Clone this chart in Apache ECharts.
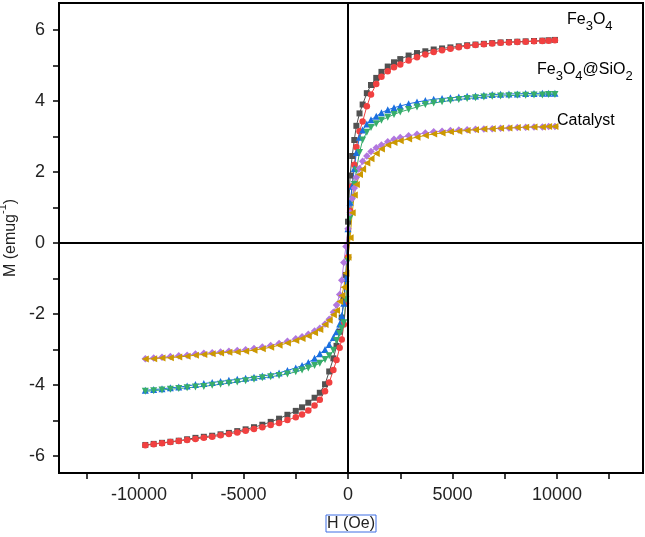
<!DOCTYPE html>
<html>
<head>
<meta charset="utf-8">
<script src="https://cdn.jsdelivr.net/npm/echarts@6/dist/echarts.min.js"></script>
<style>
  html, body { margin: 0; padding: 0; background: #fff; }
</style>
</head>
<body>
<div id="mh_loop_chart" style="width: 645px; height: 537px;"></div>
<script>
// applied field (Oe), same sweep for every branch
const fieldH = [
  -9700, -9300, -8900, -8500, -8100, -7700, -7300, -6900, -6500, -6100, -5700, -5300, -4900, -4500, -4100, -3700, -3300, -2900, -2500,
  -2200, -1900, -1600, -1350, -1100, -900, -700, -550, -400, -300, -200, -100,
  0,
  100, 200, 300, 400, 550, 700, 900, 1100, 1350, 1600, 1900, 2200,
  2500, 2900, 3300, 3700, 4100, 4500, 4900, 5300, 5700, 6100, 6500, 6900, 7300, 7700, 8100, 8500, 8900, 9300,
  9600, 9900
];

// magnetisation (emu/g)
const fe3o4Down = [
  -5.69, -5.66, -5.63, -5.60, -5.57, -5.53, -5.49, -5.46, -5.43, -5.39, -5.35, -5.30, -5.25, -5.19, -5.12, -5.04, -4.95, -4.84, -4.73,
  -4.63, -4.50, -4.36, -4.22, -3.98, -3.62, -3.25, -2.90, -2.50, -2.10, -1.60, -0.90,
  0.60,
  1.90, 2.45, 2.90, 3.30, 3.65, 3.90, 4.22, 4.45, 4.65, 4.82, 4.97, 5.09,
  5.18, 5.28, 5.35, 5.40, 5.45, 5.48, 5.51, 5.54, 5.57, 5.59, 5.61, 5.63, 5.65, 5.66, 5.67, 5.68, 5.69, 5.70,
  5.71, 5.72
];
const fe3o4Up = [
  -5.70, -5.67, -5.64, -5.61, -5.58, -5.55, -5.52, -5.49, -5.46, -5.42, -5.38, -5.34, -5.29, -5.24, -5.19, -5.13, -5.07, -4.99, -4.91,
  -4.83, -4.72, -4.58, -4.42, -4.18, -3.93, -3.58, -3.30, -2.95, -2.72, -2.30, -1.70,
  -0.40,
  0.90, 1.60, 2.20, 2.70, 3.15, 3.42, 3.85, 4.18, 4.48, 4.68, 4.84, 4.95,
  5.03, 5.14, 5.23, 5.31, 5.38, 5.43, 5.47, 5.51, 5.55, 5.58, 5.60, 5.62, 5.64, 5.65, 5.66, 5.67, 5.68, 5.69,
  5.70, 5.71
];
const silicaDown = [
  -4.15, -4.13, -4.11, -4.08, -4.06, -4.03, -3.99, -3.96, -3.93, -3.90, -3.87, -3.84, -3.81, -3.78, -3.75, -3.71, -3.66, -3.59, -3.52,
  -3.45, -3.37, -3.25, -3.12, -3.00, -2.86, -2.66, -2.50, -2.28, -2.05, -1.70, -1.00,
  0.40,
  1.15, 1.60, 2.10, 2.55, 2.98, 3.18, 3.35, 3.47, 3.57, 3.67, 3.75, 3.81,
  3.86, 3.92, 3.97, 4.01, 4.05, 4.07, 4.09, 4.11, 4.13, 4.14, 4.16, 4.18, 4.19, 4.20, 4.20, 4.21, 4.21, 4.22,
  4.22, 4.22
];
const silicaUp = [
  -4.18, -4.16, -4.14, -4.12, -4.10, -4.08, -4.06, -4.04, -4.01, -3.98, -3.95, -3.92, -3.88, -3.84, -3.80, -3.77, -3.73, -3.69, -3.63,
  -3.58, -3.52, -3.45, -3.39, -3.28, -3.18, -3.02, -2.75, -2.55, -2.40, -2.25, -1.60,
  -0.50,
  0.70, 1.20, 1.65, 2.05, 2.55, 2.90, 3.12, 3.25, 3.36, 3.46, 3.54, 3.62,
  3.69, 3.76, 3.83, 3.90, 3.94, 3.98, 4.01, 4.04, 4.07, 4.09, 4.11, 4.13, 4.14, 4.15, 4.16, 4.16, 4.17, 4.17,
  4.18, 4.18
];
const catalystDown = [
  -3.26, -3.24, -3.22, -3.20, -3.18, -3.16, -3.13, -3.11, -3.09, -3.07, -3.05, -3.03, -3.01, -2.97, -2.93, -2.89, -2.83, -2.77, -2.70,
  -2.64, -2.57, -2.48, -2.40, -2.28, -2.15, -1.95, -1.75, -1.45, -1.05, -0.55, -0.10,
  0.40,
  0.85, 1.25, 1.55, 1.85, 2.10, 2.30, 2.45, 2.58, 2.68, 2.76, 2.85, 2.92,
  2.97, 3.02, 3.06, 3.10, 3.13, 3.15, 3.17, 3.18, 3.19, 3.20, 3.21, 3.22, 3.23, 3.24, 3.25, 3.26, 3.27, 3.27,
  3.28, 3.28
];
const catalystUp = [
  -3.27, -3.26, -3.24, -3.23, -3.21, -3.19, -3.16, -3.14, -3.12, -3.10, -3.08, -3.07, -3.05, -3.02, -2.98, -2.94, -2.88, -2.82, -2.75,
  -2.69, -2.62, -2.53, -2.44, -2.30, -2.18, -2.02, -1.90, -1.65, -1.48, -1.25, -0.85,
  -0.40,
  0.15, 0.85, 1.35, 1.65, 1.93, 2.08, 2.25, 2.37, 2.52, 2.65, 2.76, 2.83,
  2.88, 2.93, 2.98, 3.03, 3.07, 3.10, 3.13, 3.15, 3.17, 3.19, 3.21, 3.22, 3.23, 3.24, 3.25, 3.26, 3.27, 3.27,
  3.28, 3.28
];

// axis ticks / labels
const xTickValues = [-12500, -10000, -7500, -5000, -2500, 0, 2500, 5000, 7500, 10000, 12500];
const xLabelValues = [-10000, -5000, 0, 5000, 10000];
const yTickValues = [-6, -5, -4, -3, -2, -1, 0, 1, 2, 3, 4, 5, 6];
const yLabelValues = [-6, -4, -2, 0, 2, 4, 6];

const FONT = "'Liberation Sans', Arial, sans-serif";
const TXT = '#222';

const triDown = 'path://M0,0 L10,0 L5,9 Z';
const triLeft = 'path://M0,5 L9,0 L9,10 Z';

function branch(name, values, color, symbol, size) {
  return {
    name: name,
    type: 'line',
    data: fieldH.map((h, i) => [h, values[i]]),
    symbol: symbol,
    symbolSize: size,
    showSymbol: true,
    itemStyle: { color: color },
    lineStyle: { color: color, width: 1 },
    emphasis: { disabled: true },
    silent: true
  };
}

const series = [
  branch('Fe3O4 down', fe3o4Down, '#515151', 'rect', 6),
  branch('Fe3O4 up', fe3o4Up, '#F14040', 'circle', 6.5),
  branch('Fe3O4@SiO2 down', silicaDown, '#1A6FDF', 'triangle', 7),
  branch('Fe3O4@SiO2 up', silicaUp, '#37AD6B', triDown, 7),
  branch('Catalyst down', catalystDown, '#B177DE', 'diamond', 7.5),
  branch('Catalyst up', catalystUp, '#CC9900', triLeft, 7)
];

// zero lines
series[0].markLine = {
  silent: true,
  symbol: 'none',
  label: { show: false },
  lineStyle: { color: '#000', width: 2, type: 'solid' },
  data: [{ xAxis: 0 }, { yAxis: 0 }]
};

const labelRich = {
  m: { fontFamily: FONT, fontSize: 16, lineHeight: 16, verticalAlign: 'top', color: TXT },
  s: { fontFamily: FONT, fontSize: 13, lineHeight: 13, padding: [8, 0, 0, 0], verticalAlign: 'top', color: TXT }
};

const option = {
  animation: false,
  grid: {
    left: 59, right: 2, top: 3, bottom: 64,
    show: true, borderColor: '#000', borderWidth: 2,
    outerBoundsMode: 'none'
  },
  xAxis: {
    type: 'value',
    min: -13830,
    max: 14115,
    splitLine: { show: false },
    axisLine: { show: true, onZero: false, lineStyle: { color: '#000', width: 2 } },
    axisTick: { show: true, customValues: xTickValues, length: 6, lineStyle: { color: '#000', width: 1.5 } },
    axisLabel: {
      customValues: xLabelValues, fontFamily: FONT, fontSize: 18, color: TXT, margin: 13,
      formatter: (v) => String(v)
    },
    name: 'H (Oe)',
    nameLocation: 'middle',
    nameGap: 42,
    nameTextStyle: {
      fontFamily: FONT, fontSize: 16, color: TXT,
      borderColor: '#3f6fe4', borderWidth: 1, padding: [1, 1, 0, 1]
    }
  },
  yAxis: {
    type: 'value',
    min: -6.48,
    max: 6.76,
    splitLine: { show: false },
    axisLine: { show: true, onZero: false, lineStyle: { color: '#000', width: 2 } },
    axisTick: { show: true, customValues: yTickValues, length: 6, lineStyle: { color: '#000', width: 1.5 } },
    axisLabel: { customValues: yLabelValues, fontFamily: FONT, fontSize: 18, color: TXT, margin: 14 },
    name: '{a|M (emug}{b|-1}{a|)}',
    nameLocation: 'middle',
    nameRotate: 90,
    nameGap: 37,
    nameTextStyle: {
      rich: {
        a: { fontFamily: FONT, fontSize: 16, lineHeight: 16, padding: [5, 0, 0, 0], verticalAlign: 'top', color: TXT },
        b: { fontFamily: FONT, fontSize: 11, lineHeight: 11, verticalAlign: 'top', color: TXT }
      }
    }
  },
  graphic: [
    { type: 'text', left: 567, top: 12, silent: true,
      style: { text: '{m|Fe}{s|3}{m|O}{s|4}', rich: labelRich } },
    { type: 'text', left: 537, top: 62, silent: true,
      style: { text: '{m|Fe}{s|3}{m|O}{s|4}{m|@SiO}{s|2}', rich: labelRich } },
    { type: 'text', left: 557, top: 113, silent: true,
      style: { text: '{m|Catalyst}', rich: labelRich } }
  ],
  series: series
};

const chartDom = document.getElementById('mh_loop_chart');
const myChart = echarts.init(chartDom);
myChart.setOption(option);
</script>
</body>
</html>
